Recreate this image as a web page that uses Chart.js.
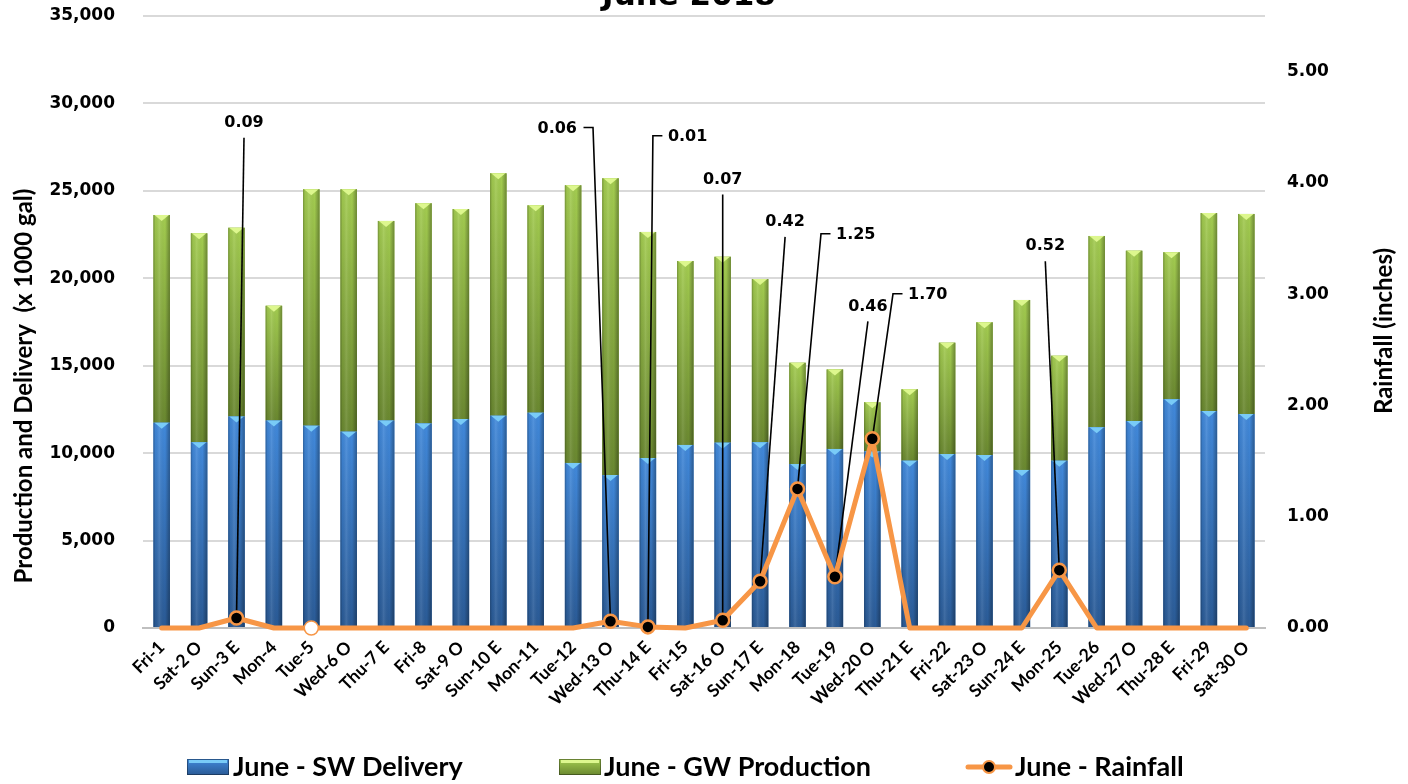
<!DOCTYPE html>
<html><head><meta charset="utf-8">
<script src="https://cdn.jsdelivr.net/npm/chart.js@4.4.1/dist/chart.umd.min.js"></script>
<style>html,body{margin:0;padding:0;background:#fff;overflow:hidden}</style>
</head><body>
<canvas id="c" width="1408" height="784"></canvas>
<script>
// ---------------- DATA ----------------
const categories = ['Fri-1','Sat-2 O','Sun-3 E','Mon-4','Tue-5','Wed-6 O','Thu-7 E','Fri-8','Sat-9 O','Sun-10 E',
  'Mon-11','Tue-12','Wed-13 O','Thu-14 E','Fri-15','Sat-16 O','Sun-17 E','Mon-18','Tue-19','Wed-20 O',
  'Thu-21 E','Fri-22','Sat-23 O','Sun-24 E','Mon-25','Tue-26','Wed-27 O','Thu-28 E','Fri-29','Sat-30 O'];
const swDelivery = [11740,10620,12090,11860,11570,11230,11860,11700,11950,12140,
  12310,9440,8750,9720,10470,10600,10620,9380,10240,10100,
  9570,9950,9890,9040,9570,11480,11840,13080,12410,12240];
const gwProduction = [11880,11950,10800,6570,13520,13860,11420,12590,12010,13860,
  11860,15880,16970,12930,10520,10630,9340,5790,4550,2810,
  4080,6370,7590,9720,6000,10940,9740,8410,11320,11440];
const rainfall = [0,0,0.09,0,0,0,0,0,0,0,
  0,0,0.06,0.01,0,0.07,0.42,1.25,0.46,1.70,
  0,0,0,0,0.52,0,0,0,0,0];
const leftTickStep = 5000, leftMax = 35000;
const rightTickStep = 1, rightMax = 5.5, rightLastTick = 5;
const chartTitle = 'June 2018';
const leftAxisTitle = 'Production and Delivery  (x 1000 gal)';
const rightAxisTitle = 'Rainfall (inches)';
const seriesNames = ['June - SW Delivery','June - GW Production','June - Rainfall'];

// ---------------- STYLE / LAYOUT ----------------
const openMarkerIndex = 4;
const barStyles = {
  0: {top:'#4189DB', bottom:'#2A5A95', bevel:'#79CBF7'},
  1: {top:'#A3CC50', bottom:'#6A8830', bevel:'#DDF78E'}
};
// label placement: dx / lx = offset from point x (px), v = label height on rainfall axis
const rainLabelLayout = {
  2:  {side:'center', dx:7.5, v:4.54},
  12: {side:'right', lx:-17.5, v:4.485},
  13: {side:'left', lx:5, v:4.41},
  15: {side:'center', dx:0, v:4.03},
  16: {side:'center', dx:25, v:3.65},
  17: {side:'left', lx:23.5, v:3.53},
  18: {side:'center', dx:33, v:2.89},
  19: {side:'left', lx:20.7, v:2.99},
  24: {side:'center', dx:-14, v:3.43}
};
const TICK_FONT = {family:'"DejaVu Sans", Verdana, sans-serif', size:17, weight:'bold'};
const CAT_FONT = {family:'Lato, "Open Sans", sans-serif', size:17.5, weight:'bold'};
const ORANGE = '#F79646';

const barShading = {
  id:'barShading',
  afterDatasetDraw(chart, args) {
    const st = barStyles[args.index]; if (!st) return;
    const ctx = chart.ctx;
    ctx.save();
    args.meta.data.forEach(el => {
      const p = el.getProps(['x','y','base','width'], true);
      const l = p.x - p.width/2, w = p.width;
      const t = Math.min(p.y, p.base), b = Math.max(p.y, p.base), h = b - t;
      if (h <= 0) return;
      const g = ctx.createLinearGradient(0, t, 0, b);
      g.addColorStop(0, st.top); g.addColorStop(1, st.bottom);
      ctx.fillStyle = g; ctx.fillRect(l, t, w, h);
      const hg = ctx.createLinearGradient(l, 0, l + w, 0);
      hg.addColorStop(0, 'rgba(0,0,0,0.28)');
      hg.addColorStop(0.12, 'rgba(0,0,0,0.04)');
      hg.addColorStop(0.35, 'rgba(255,255,255,0.10)');
      hg.addColorStop(0.7, 'rgba(0,0,0,0)');
      hg.addColorStop(1, 'rgba(0,0,0,0.32)');
      ctx.fillStyle = hg; ctx.fillRect(l, t, w, h);
      const bh = Math.min(6, h);
      ctx.fillStyle = st.bevel;
      ctx.beginPath(); ctx.moveTo(l + 1, t); ctx.lineTo(l + w - 1, t); ctx.lineTo(p.x, t + bh); ctx.closePath(); ctx.fill();
    });
    ctx.restore();
  }
};

function labelGeom(chart, i) {
  const lay = rainLabelLayout[i];
  const el = chart.getDatasetMeta(2).data[i];
  const px = el.x, py = el.y;
  const ty = chart.scales.y1.getPixelForValue(lay.v);
  return {lay, px, py, ty};
}

const rainLabels = {
  id:'rainLabels',
  beforeDatasetDraw(chart, args) {
    if (args.index !== 2) return;
    const ctx = chart.ctx;
    ctx.save();
    ctx.strokeStyle = '#000'; ctx.lineWidth = 1.6;
    Object.keys(rainLabelLayout).forEach(k => {
      const {lay, px, py, ty} = labelGeom(chart, +k);
      ctx.beginPath();
      if (lay.side === 'center') {
        ctx.moveTo(px + lay.dx, ty + 15); ctx.lineTo(px, py);
      } else {
        const ey = ty - 1.5, sx = px + lay.lx;
        const ex = lay.side === 'left' ? sx + 9.5 : sx - 9.5;
        ctx.moveTo(ex, ey); ctx.lineTo(sx, ey); ctx.lineTo(px, py);
      }
      ctx.stroke();
    });
    ctx.restore();
  },
  afterDatasetsDraw(chart) {
    const ctx = chart.ctx;
    ctx.save();
    ctx.fillStyle = '#000';
    ctx.font = 'bold 16px "DejaVu Sans", Verdana, sans-serif';
    ctx.textBaseline = 'middle';
    Object.keys(rainLabelLayout).forEach(k => {
      const i = +k;
      const {lay, px, ty} = labelGeom(chart, i);
      const txt = rainfall[i].toFixed(2);
      if (lay.side === 'center') { ctx.textAlign = 'center'; ctx.fillText(txt, px + lay.dx, ty); }
      else if (lay.side === 'left') { ctx.textAlign = 'left'; ctx.fillText(txt, px + lay.lx + 15, ty); }
      else { ctx.textAlign = 'right'; ctx.fillText(txt, px + lay.lx - 16, ty); }
    });
    ctx.restore();
  }
};

function swatchBar(ctx, x, y, w, h, st) {
  const g = ctx.createLinearGradient(0, y, 0, y + h);
  g.addColorStop(0, st.top); g.addColorStop(1, st.bottom);
  ctx.fillStyle = g; ctx.fillRect(x, y, w, h);
  ctx.fillStyle = st.bevel;
  ctx.fillRect(x + 2, y + 1, w - 4, 3);
  ctx.strokeStyle = 'rgba(0,0,0,0.35)'; ctx.lineWidth = 1; ctx.strokeRect(x + 0.5, y + 0.5, w - 1, h - 1);
}

const decorations = {
  id:'decorations',
  afterDraw(chart) {
    const ctx = chart.ctx;
    ctx.save();
    // title (mostly cut off at top)
    ctx.fillStyle = '#000';
    ctx.font = 'bold 31px "DejaVu Sans", Verdana, sans-serif';
    ctx.textAlign = 'center'; ctx.textBaseline = 'alphabetic';
    ctx.fillText(chartTitle, 689, 5);
    // axis titles
    ctx.font = 'bold 24px Lato, "Open Sans", sans-serif';
    ctx.textBaseline = 'middle';
    ctx.save(); ctx.translate(24, 386); ctx.rotate(-Math.PI/2); ctx.fillText(leftAxisTitle, 0, 0); ctx.restore();
    ctx.save(); ctx.translate(1384, 331); ctx.rotate(-Math.PI/2); ctx.fillText(rightAxisTitle, 0, 0); ctx.restore();
    // legend
    const ly = 767;
    ctx.font = 'bold 27px Lato, "Open Sans", sans-serif';
    ctx.textAlign = 'left';
    swatchBar(ctx, 187, ly - 8, 42, 16, barStyles[0]);
    ctx.fillStyle = '#000'; ctx.fillText(chart.data.datasets[0].label, 233, ly);
    swatchBar(ctx, 559, ly - 8, 42, 16, barStyles[1]);
    ctx.fillStyle = '#000'; ctx.fillText(chart.data.datasets[1].label, 604, ly);
    ctx.strokeStyle = ORANGE; ctx.lineWidth = 5; ctx.lineCap = 'round';
    ctx.beginPath(); ctx.moveTo(968, ly); ctx.lineTo(1010, ly); ctx.stroke();
    ctx.beginPath(); ctx.arc(989, ly, 6, 0, Math.PI*2); ctx.fillStyle = '#000'; ctx.fill();
    ctx.lineWidth = 2; ctx.stroke();
    ctx.fillStyle = '#000'; ctx.fillText(chart.data.datasets[2].label, 1015, ly);
    ctx.restore();
  }
};

function noPad(a) { a.paddingTop = 0; a.paddingBottom = 0; a.paddingLeft = 0; a.paddingRight = 0; }

new Chart(document.getElementById('c'), {
  data: {
    labels: categories,
    datasets: [
      {type:'bar', label:seriesNames[0], data:swDelivery, yAxisID:'y', stack:'s', order:2,
       backgroundColor:'#3A78C2', barPercentage:0.44, categoryPercentage:1},
      {type:'bar', label:seriesNames[1], data:gwProduction, yAxisID:'y', stack:'s', order:2,
       backgroundColor:'#8DB33F', barPercentage:0.44, categoryPercentage:1},
      {type:'line', label:seriesNames[2], data:rainfall, yAxisID:'y1', order:0, clip:false,
       borderColor:ORANGE, borderWidth:5, tension:0, borderJoinStyle:'round', borderCapStyle:'round',
       pointRadius: c => (c.raw > 0 ? 6.5 : (c.dataIndex === openMarkerIndex ? 7 : 0)),
       pointBackgroundColor: c => (c.raw > 0 ? '#000' : '#fff'),
       pointBorderColor: ORANGE, pointBorderWidth: c => (c.raw > 0 ? 2.5 : 1.5)}
    ]
  },
  options: {
    responsive:false, animation:false, devicePixelRatio:1,
    layout:{padding:{top:16, left:0, right:0, bottom:0}},
    plugins:{legend:{display:false}, tooltip:{enabled:false}, title:{display:false}},
    scales:{
      x:{stacked:true, offset:true,
         grid:{display:false},
         border:{display:true, color:'#BFBFBF', width:2},
         ticks:{font:CAT_FONT, color:'#000', minRotation:45, maxRotation:45, autoSkip:false, padding:1},
         afterFit: a => { a.height = 156; noPad(a); }},
      y:{stacked:true, position:'left', min:0, max:leftMax,
         ticks:{stepSize:leftTickStep, font:TICK_FONT, color:'#000', padding:28,
                callback: v => v.toLocaleString('en-US')},
         grid:{color:'#D9D9D9', lineWidth:2, drawTicks:false},
         border:{display:false},
         afterFit: a => { a.width = 143; noPad(a); }},
      y1:{position:'right', min:0, max:rightMax,
          ticks:{stepSize:rightTickStep, font:TICK_FONT, color:'#000', padding:22,
                 callback: v => v.toFixed(2)},
          afterBuildTicks: a => { a.ticks = a.ticks.filter(t => t.value <= rightLastTick); },
          grid:{display:false, drawTicks:false},
          border:{display:false},
          afterFit: a => { a.width = 143; noPad(a); }}
    }
  },
  plugins:[barShading, rainLabels, decorations]
});
</script>
</body></html>
